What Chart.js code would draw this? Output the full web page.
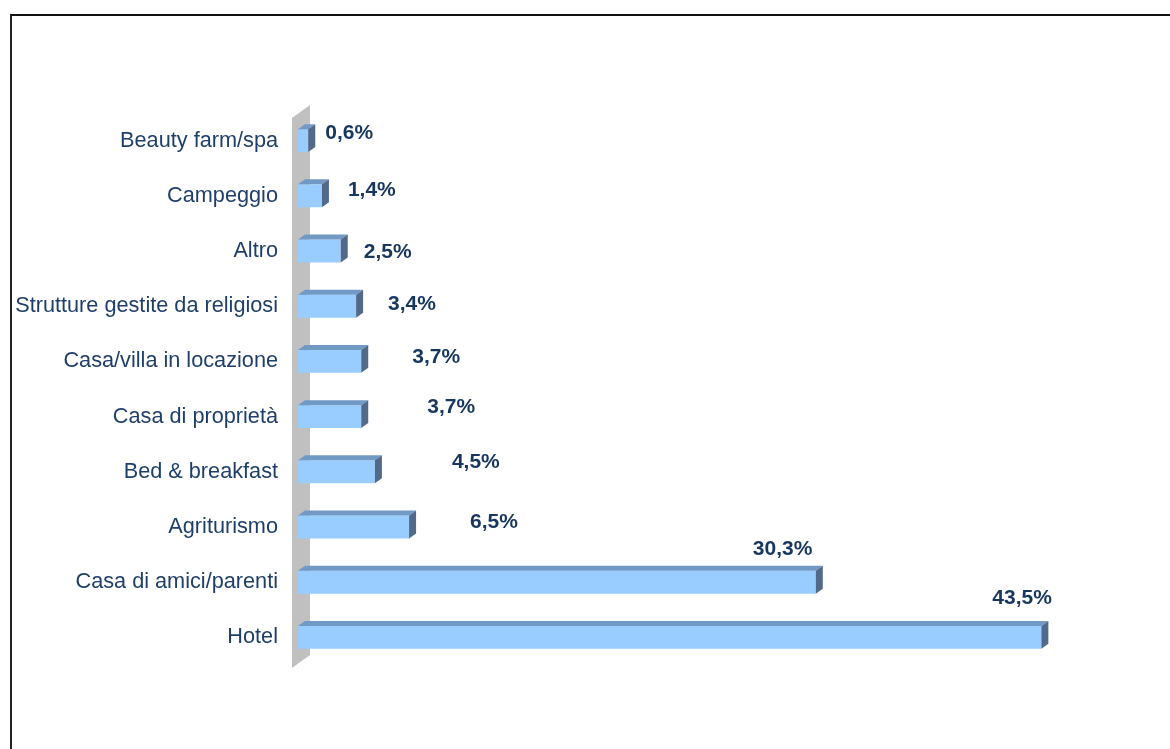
<!DOCTYPE html>
<html>
<head>
<meta charset="utf-8">
<script src="https://cdn.jsdelivr.net/npm/chart.js@4.4.1/dist/chart.umd.min.js"></script>
<style>
  html, body { margin: 0; padding: 0; background: #fff; }
  #wrap { position: relative; width: 1170px; height: 749px; overflow: hidden; }
  #frame {
    position: absolute; left: 10px; top: 14px; width: 1200px; height: 800px;
    border-top: 2px solid #111; border-left: 2px solid #222;
  }
  #chart { position: absolute; left: 0; top: 0; }
</style>
</head>
<body>
<div id="wrap">
  <div id="frame"></div>
  <canvas id="chart" width="1170" height="749"></canvas>
</div>
<script>
// ---------- dati ----------
const categorie = [
  'Beauty farm/spa',
  'Campeggio',
  'Altro',
  'Strutture gestite da religiosi',
  'Casa/villa in locazione',
  'Casa di proprietà',
  'Bed & breakfast',
  'Agriturismo',
  'Casa di amici/parenti',
  'Hotel'
];
const percentuali = [0.6, 1.4, 2.5, 3.4, 3.7, 3.7, 4.5, 6.5, 30.3, 43.5];

// spostamento delle etichette rispetto alla fine della barra (dx, dy)
const spostamentiEtichette = [
  [17, -7], [26, -6], [23, 1], [32, -2], [51, -4],
  [66, -9], [77, -10], [61, -5], [-63, -33], [-49, -39]
];

const BLU_FRONTE = '#99CCFF';
const BLU_SOPRA = '#7099C6';
const BLU_LATO = '#52698A';
const GRIGIO_PARETE = '#C0C0C0';
const COLORE_TESTO = '#17375E';
const PROF_X = 7, PROF_Y = -5;

const fmt = v => v.toFixed(1).replace('.', ',') + '%';

// parete grigia dietro le barre
const pareteLaterale = {
  id: 'pareteLaterale',
  beforeDatasetsDraw(chart) {
    const { ctx, chartArea: a } = chart;
    ctx.save();
    ctx.fillStyle = GRIGIO_PARETE;
    ctx.beginPath();
    ctx.moveTo(a.left - 6, a.bottom + 3);
    ctx.lineTo(a.left - 6, a.top + 5);
    ctx.lineTo(a.left + 12, a.top - 8);
    ctx.lineTo(a.left + 12, a.bottom - 10);
    ctx.closePath();
    ctx.fill();
    ctx.restore();
  }
};

// facce superiore e laterale delle barre + etichette valore
const barre3d = {
  id: 'barre3d',
  afterDatasetsDraw(chart) {
    const { ctx } = chart;
    const meta = chart.getDatasetMeta(0);
    ctx.save();
    meta.data.forEach((bar, i) => {
      const x0 = bar.base, x1 = bar.x;
      const top = bar.y - bar.height / 2, bottom = bar.y + bar.height / 2;

      ctx.fillStyle = BLU_SOPRA;
      ctx.beginPath();
      ctx.moveTo(x0, top);
      ctx.lineTo(x0 + PROF_X, top + PROF_Y);
      ctx.lineTo(x1 + PROF_X, top + PROF_Y);
      ctx.lineTo(x1, top);
      ctx.closePath();
      ctx.fill();

      ctx.fillStyle = BLU_LATO;
      ctx.beginPath();
      ctx.moveTo(x1, top);
      ctx.lineTo(x1 + PROF_X, top + PROF_Y);
      ctx.lineTo(x1 + PROF_X, bottom + PROF_Y);
      ctx.lineTo(x1, bottom);
      ctx.closePath();
      ctx.fill();

      const [dx, dy] = spostamentiEtichette[i];
      ctx.fillStyle = COLORE_TESTO;
      ctx.font = 'bold 21px "Liberation Sans", Arial, sans-serif';
      ctx.textAlign = 'left';
      ctx.textBaseline = 'middle';
      ctx.fillText(fmt(percentuali[i]), x1 + dx, bar.y + dy);
    });
    ctx.restore();
  }
};

new Chart(document.getElementById('chart'), {
  type: 'bar',
  data: {
    labels: categorie,
    datasets: [{
      data: percentuali,
      backgroundColor: BLU_FRONTE,
      borderWidth: 0,
      categoryPercentage: 1,
      barPercentage: 0.415
    }]
  },
  options: {
    indexAxis: 'y',
    responsive: false,
    animation: false,
    layout: { padding: { top: 113, bottom: 84, right: 103, left: 0 } },
    scales: {
      x: { display: false, min: 0, max: 45 },
      y: {
        grid: { display: false, drawTicks: false },
        border: { display: false },
        afterFit(scale) { scale.width = 298; },
        ticks: {
          padding: 20,
          color: '#1F3F6B',
          font: { family: '"Liberation Sans", Arial, sans-serif', size: 21.7 }
        }
      }
    },
    plugins: {
      legend: { display: false },
      tooltip: { enabled: false }
    }
  },
  plugins: [pareteLaterale, barre3d]
});
</script>
</body>
</html>
